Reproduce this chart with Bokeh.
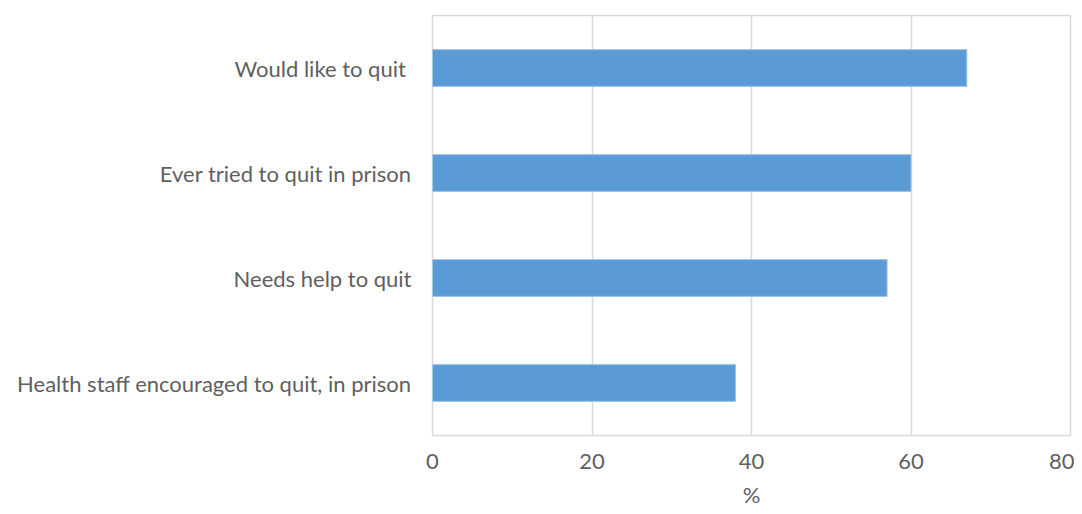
from bokeh.plotting import figure
from bokeh.models import FactorRange, Range1d, FixedTicker
from bokeh.embed import file_html
from bokeh.resources import INLINE

categories = ["Would like to quit ", "Ever tried to quit in prison", "Needs help to quit",
              "Health staff encouraged to quit, in prison"]
values = [67, 60, 57, 38]
x_ticks = [0, 20, 40, 60, 80]
x_title = "%"

FONT = "Lato"
TEXT = "#5f5f5f"
GRID = "#d9d9d9"

p = figure(width=1074, height=514, output_backend="svg", toolbar_location=None,
           y_range=FactorRange(*reversed(categories), range_padding=0),
           x_range=Range1d(0, 80),
           min_border_left=432, min_border_right=4, min_border_top=15, min_border_bottom=79)

p.hbar(y=categories, right=values, left=0, height=0.35,
       fill_color="#5b9bd5", line_color="#9dc3e6", line_width=1)

p.outline_line_color = GRID
p.outline_line_width = 1.5
p.background_fill_color = "white"
p.border_fill_color = "white"

p.ygrid.grid_line_color = None
p.xgrid.grid_line_color = GRID
p.xgrid.grid_line_width = 1.5
p.xaxis.ticker = FixedTicker(ticks=x_ticks)

for ax in (p.xaxis[0], p.yaxis[0]):
    ax.axis_line_color = None
    ax.major_tick_line_color = None
    ax.minor_tick_line_color = None
    ax.major_tick_in = 0
    ax.major_tick_out = 0
    ax.major_label_text_color = TEXT
    ax.major_label_text_font = FONT
    ax.major_label_text_font_style = "normal"

p.yaxis.major_label_text_font_size = "22px"
p.yaxis.major_label_standoff = 21
p.xaxis.major_label_text_font_size = "22px"
p.xaxis.major_label_standoff = 18

p.xaxis.axis_label = x_title
p.xaxis.axis_label_text_font = FONT
p.xaxis.axis_label_text_font_style = "normal"
p.xaxis.axis_label_text_font_size = "22px"
p.xaxis.axis_label_text_color = TEXT
p.xaxis.axis_label_standoff = 9

open("out.html", "w").write(file_html(p, INLINE))
